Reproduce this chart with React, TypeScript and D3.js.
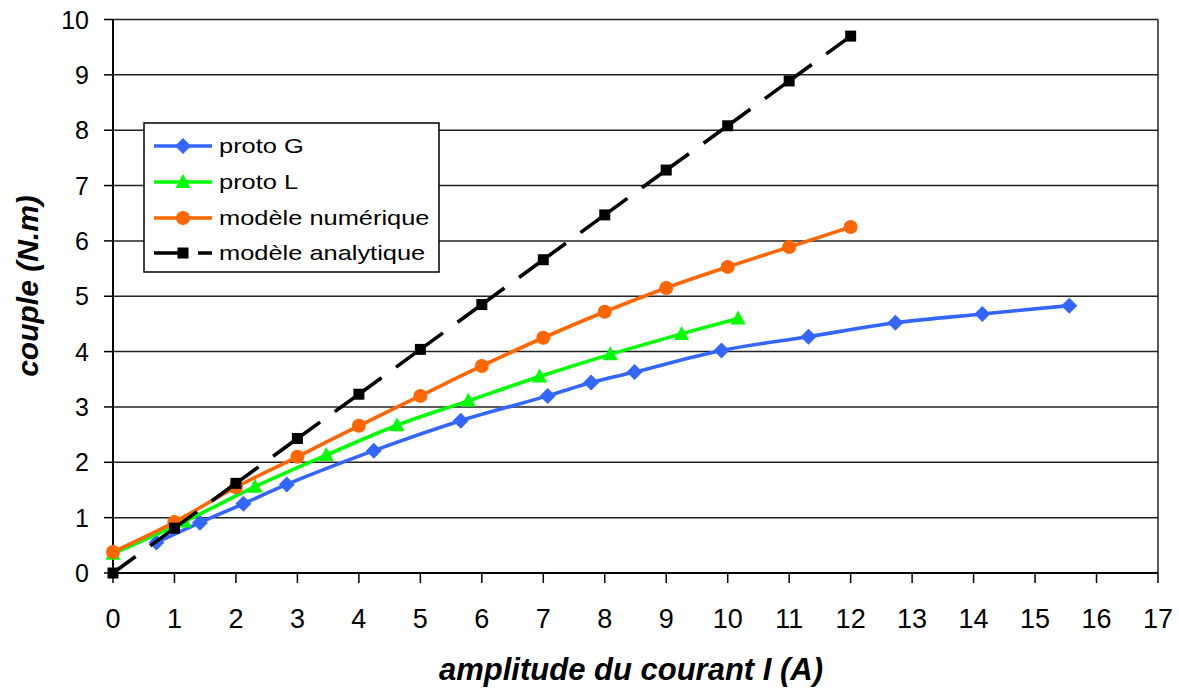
import React from "react";
import * as d3 from "d3";

// ---- data ----
const xTicks = [0, 1, 2, 3, 4, 5, 6, 7, 8, 9, 10, 11, 12, 13, 14, 15, 16, 17];
const yTicks = [0, 1, 2, 3, 4, 5, 6, 7, 8, 9, 10];

const protoG_I = [0.707, 1.414, 2.121, 2.828, 4.243, 5.657, 7.071, 7.778, 8.485, 9.899, 11.314, 12.728, 14.142, 15.556];
const protoG_C = [0.55, 0.91, 1.25, 1.6, 2.21, 2.75, 3.2, 3.44, 3.63, 4.02, 4.27, 4.52, 4.68, 4.83];

const protoL_I = [0, 1.16, 2.31, 3.47, 4.62, 5.78, 6.94, 8.09, 9.25, 10.17];
const protoL_C = [0.35, 0.93, 1.56, 2.13, 2.67, 3.11, 3.55, 3.95, 4.32, 4.6];

const num_I = [0, 1, 2, 3, 4, 5, 6, 7, 8, 9, 10, 11, 12];
const num_C = [0.38, 0.92, 1.55, 2.1, 2.66, 3.2, 3.74, 4.25, 4.72, 5.15, 5.53, 5.89, 6.25];

const ana_I = [0, 1, 2, 3, 4, 5, 6, 7, 8, 9, 10, 11, 12];
const ana_C = [0, 0.81, 1.62, 2.43, 3.23, 4.04, 4.85, 5.66, 6.47, 7.28, 8.08, 8.89, 9.7];

const seriesNames = ["proto G", "proto L", "modèle numérique", "modèle analytique"];
const xTitle = "amplitude du courant I (A)";
const yTitle = "couple (N.m)";

const FONT = "'Liberation Sans', Arial, sans-serif";

type Pt = [number, number];
const zip = (a: number[], b: number[]): Pt[] => a.map((v, i) => [v, b[i]]);

export default function App() {
  const W = 1179, H = 691;
  const x = d3.scaleLinear().domain([0, 17]).range([113, 1158]);
  const y = d3.scaleLinear().domain([0, 10]).range([573, 19.5]);

  const smooth = d3.line<Pt>().x(d => x(d[0])).y(d => y(d[1])).curve(d3.curveCatmullRom.alpha(0.5));
  const straight = d3.line<Pt>().x(d => x(d[0])).y(d => y(d[1]));

  const g = zip(protoG_I, protoG_C);
  const l = zip(protoL_I, protoL_C);
  const n = zip(num_I, num_C);
  const a = zip(ana_I, ana_C);

  const colors = ["#3366FF", "#00FF00", "#FF6600", "#000000"];
  const LW = 3.6;

  const diamond = (cx: number, cy: number, r = 8, c = colors[0], k?: any) => (
    <path key={k} d={`M${cx},${cy - r}L${cx + r},${cy}L${cx},${cy + r}L${cx - r},${cy}Z`} fill={c} />
  );
  const triangle = (cx: number, cy: number, c = colors[1], k?: any) => (
    <path key={k} d={`M${cx},${cy - 8}L${cx + 7.5},${cy + 6}L${cx - 7.5},${cy + 6}Z`} fill={c} />
  );
  const circle = (cx: number, cy: number, c = colors[2], k?: any) => (
    <circle key={k} cx={cx} cy={cy} r={7} fill={c} />
  );
  const square = (cx: number, cy: number, c = colors[3], k?: any) => (
    <rect key={k} x={cx - 5.5} y={cy - 5.5} width={11} height={11} fill={c} />
  );

  const segs: Pt[][] = a.slice(1).map((p, i) => [a[i], p]);

  const legendX = 144, legendY = 123, legendW = 295, legendH = 149;
  const legRows = [146, 182, 218, 253];

  return (
    <svg width={W} height={H} style={{ position: "absolute", left: 0, top: 0, background: "#fff" }} fontFamily={FONT}>
      {/* gridlines */}
      {yTicks.slice(1).map(t => (
        <line key={"g" + t} x1={x(0)} x2={x(17)} y1={y(t)} y2={y(t)} stroke="#222" strokeWidth={1.5} />
      ))}
      {/* right border */}
      <line x1={x(17)} x2={x(17)} y1={y(10)} y2={y(0)} stroke="#222" strokeWidth={1.5} />
      {/* axes */}
      <line x1={x(0)} x2={x(0)} y1={y(10)} y2={y(0)} stroke="#000" strokeWidth={2} />
      <line x1={x(0)} x2={x(17)} y1={y(0)} y2={y(0)} stroke="#000" strokeWidth={2} />
      {yTicks.map(t => (
        <g key={"yt" + t}>
          <line x1={x(0) - 9} x2={x(0)} y1={y(t)} y2={y(t)} stroke="#000" strokeWidth={1.5} />
          <text x={89} y={y(t)} dy="0.36em" textAnchor="end" fontSize={25}>{t}</text>
        </g>
      ))}
      {xTicks.map(t => (
        <g key={"xt" + t}>
          <line x1={x(t)} x2={x(t)} y1={y(0)} y2={y(0) + 10} stroke="#000" strokeWidth={1.5} />
          <text x={x(t)} y={628} textAnchor="middle" fontSize={27}>{t}</text>
        </g>
      ))}

      {/* series */}
      <path d={smooth(g) || ""} fill="none" stroke={colors[0]} strokeWidth={LW} />
      {g.map((p, i) => diamond(x(p[0]), y(p[1]), 8, colors[0], "d" + i))}
      <path d={smooth(l) || ""} fill="none" stroke={colors[1]} strokeWidth={LW} />
      {l.map((p, i) => triangle(x(p[0]), y(p[1]), colors[1], "t" + i))}
      <path d={smooth(n) || ""} fill="none" stroke={colors[2]} strokeWidth={LW} />
      {n.map((p, i) => circle(x(p[0]), y(p[1]), colors[2], "c" + i))}
      {segs.map((s, i) => (
        <path key={"s" + i} d={straight(s) || ""} fill="none" stroke="#000" strokeWidth={LW} strokeDasharray="28,18" />
      ))}
      {a.map((p, i) => square(x(p[0]), y(p[1]), colors[3], "q" + i))}

      {/* legend */}
      <rect x={legendX} y={legendY} width={legendW} height={legendH} fill="#fff" stroke="#000" strokeWidth={1.5} />
      {seriesNames.map((name, i) => {
        const cy = legRows[i];
        const mx = 183;
        return (
          <g key={"lg" + i}>
            <line x1={154} x2={212} y1={cy} y2={cy} stroke={colors[i]} strokeWidth={LW}
              strokeDasharray={i === 3 ? "32,12" : undefined} />
            {i === 0 && diamond(mx, cy, 8, colors[0])}
            {i === 1 && triangle(mx, cy, colors[1])}
            {i === 2 && circle(mx, cy, colors[2])}
            {i === 3 && square(mx, cy, colors[3])}
            <text x={0} y={0} dy="0.36em" fontSize={20.5} transform={`translate(219,${cy}) scale(1.24,1)`}>{name}</text>
          </g>
        );
      })}

      {/* axis titles */}
      <text x={631} y={680} textAnchor="middle" fontSize={31} fontWeight="bold" fontStyle="italic">{xTitle}</text>
      <text transform="translate(38,286) rotate(-90)" textAnchor="middle" fontSize={30} fontWeight="bold" fontStyle="italic">{yTitle}</text>
    </svg>
  );
}
